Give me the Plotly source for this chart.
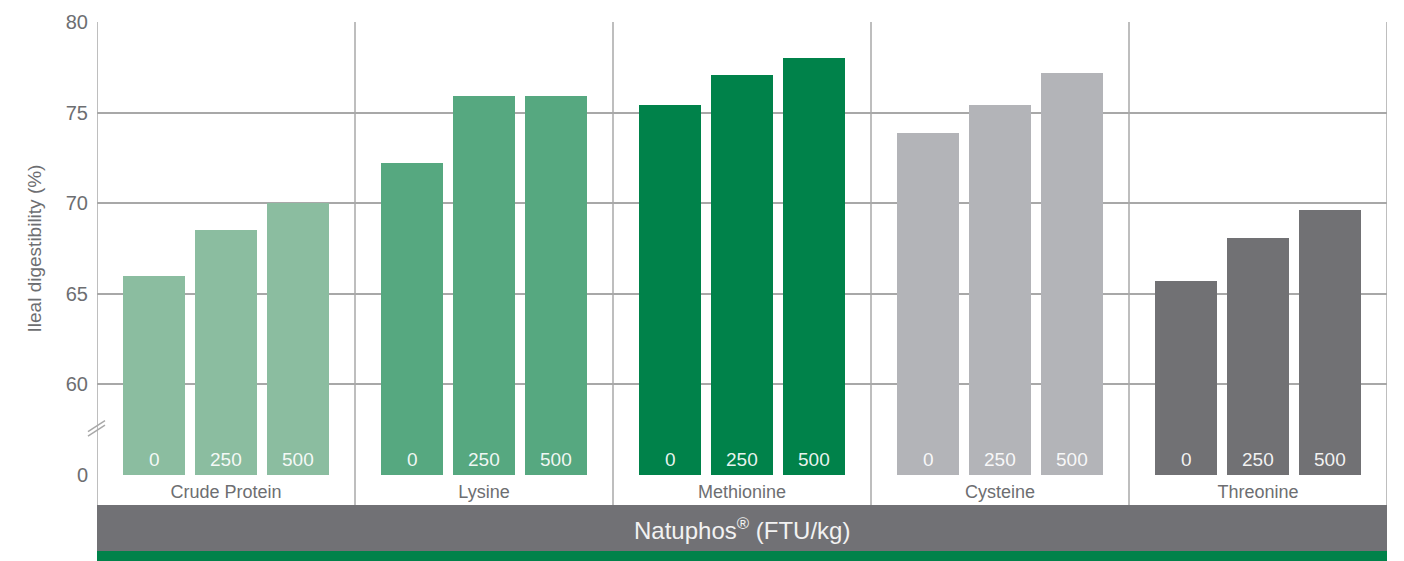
import plotly.graph_objects as go

# data
nutrients = ["Crude Protein", "Lysine", "Methionine", "Cysteine", "Threonine"]
doses = ["0", "250", "500"]
crude_protein = [66.0, 68.5, 70.0]
lysine = [72.2, 75.9, 75.9]
methionine = [75.4, 77.1, 78.0]
cysteine = [73.9, 75.4, 77.2]
threonine = [65.7, 68.1, 69.6]
y_ticks = [55, 60, 65, 70, 75, 80]
y_tick_labels = ["0", "60", "65", "70", "75", "80"]

series = [crude_protein, lysine, methionine, cysteine, threonine]
colors = ["#8BBDA0", "#56A880", "#00824A", "#B3B4B8", "#717174"]
offsets = [0.221, 0.5, 0.779]
grid = "#A8A8A8"
text_gray = "#6D6E71"
font = "Liberation Sans, Arial, sans-serif"

fig = go.Figure()

for i, (name, vals, col) in enumerate(zip(nutrients, series, colors)):
    xs = [i + o for o in offsets]
    fig.add_trace(go.Bar(
        x=xs, y=vals, width=0.24, name=name,
        marker=dict(color=col, line=dict(width=0)),
        hovertemplate=name + " %{customdata} FTU/kg: %{y}%<extra></extra>",
        customdata=doses,
        showlegend=False,
    ))
    for x, d in zip(xs, doses):
        fig.add_annotation(x=x, y=55.85, text=d, showarrow=False,
                           font=dict(size=19, color="rgba(255,255,255,0.92)", family=font),
                           yanchor="middle")

# panel separators, extended into label row
for k in range(6):
    fig.add_shape(type="line", xref="x", yref="paper", x0=k, x1=k, y0=-0.0662, y1=1,
                  line=dict(color=grid, width=1.5), layer="above")

# gray band and green strip
fig.add_shape(type="rect", xref="paper", yref="paper", x0=0, x1=1, y0=-0.1678, y1=-0.0662,
              fillcolor="#717175", line=dict(width=0))
fig.add_shape(type="rect", xref="paper", yref="paper", x0=0, x1=1, y0=-0.21, y1=-0.1678,
              fillcolor="#00824A", line=dict(width=0))
fig.add_annotation(xref="paper", yref="paper", x=0.5, y=-0.119, showarrow=False,
                   text="Natuphos<sup style='font-size:13px'>®</sup> (FTU/kg)",
                   font=dict(size=24, color="#F2F2F2", family=font), yanchor="middle")

# axis break marks
for dy in [0, 0.25]:
    fig.add_shape(type="line", xref="paper", yref="y", x0=-0.007, x1=0.0062,
                  y0=57.15 + dy, y1=57.75 + dy, line=dict(color=grid, width=1.5))

fig.update_xaxes(range=[0, 5], tickvals=[0.5, 1.5, 2.5, 3.5, 4.5], ticktext=nutrients,
                 showgrid=False, zeroline=False, showline=False, ticks="",
                 tickfont=dict(size=18, color=text_gray, family=font), ticklabelstandoff=4,
                 fixedrange=True)
fig.update_yaxes(range=[55, 80], tickvals=y_ticks, ticktext=y_tick_labels,
                 showgrid=True, gridcolor=grid, gridwidth=1.5, zeroline=False, showline=False,
                 ticks="", ticklabelstandoff=8,
                 tickfont=dict(size=20, color=text_gray, family=font),
                 title=dict(text="Ileal digestibility (%)", standoff=19,
                            font=dict(size=19, color=text_gray, family=font)),
                 fixedrange=True)

# the page body adds an 8px offset, so margins compensate for it
fig.update_layout(
    width=1404, height=561,
    margin=dict(l=89, r=25, t=14, b=94, autoexpand=False),
    paper_bgcolor="white", plot_bgcolor="white",
    bargap=0,
    font=dict(family=font, color=text_gray),
)

fig.write_html("out.html")
